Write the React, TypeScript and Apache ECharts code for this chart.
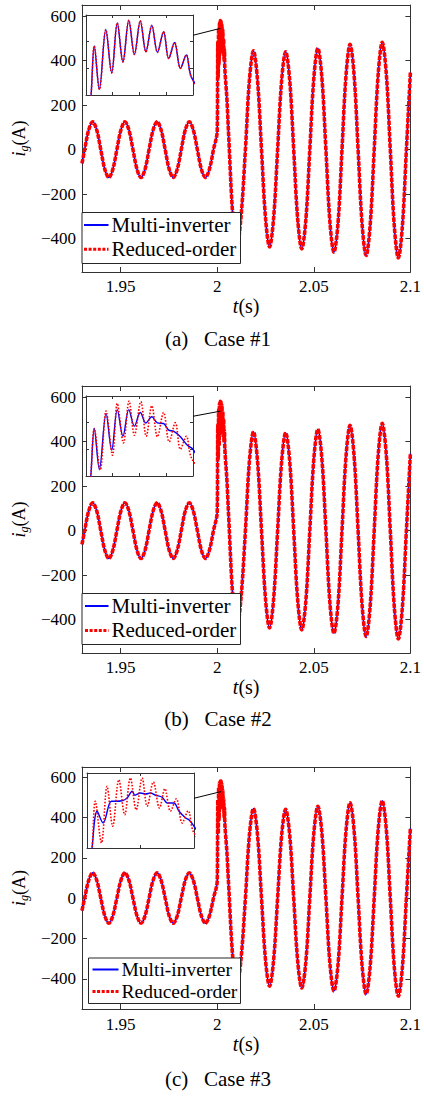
import React, { useEffect, useRef } from 'react';
import * as echarts from 'echarts';

type P = [number, number];

// ---------- tick labels ----------
const xTickValues = [1.95, 2, 2.05, 2.1];
const yTickValues = [-400, -200, 0, 200, 400, 600];
const insetXTicks = [[2.001, 2.002, 2.003], [2.001, 2.002, 2.003], [2.002]];
const insetYTicks = [[400, 500], [400, 500], [] as number[]];

// ---------- series values (t [s], i_g [A]) ----------
const preFault: P[] = [
  [1.93, -62], [1.93139, 0], [1.93347, 88], [1.93556, 125], [1.93764, 88], [1.93972, 0], [1.94181, -88], [1.94389, -125], [1.94597, -88], [1.94806, 0],
  [1.95014, 88], [1.95222, 125], [1.95431, 88], [1.95639, 0], [1.95847, -88], [1.96056, -125], [1.96264, -88], [1.96472, 0],
  [1.96681, 88], [1.96889, 125], [1.97097, 88], [1.97306, 0], [1.97514, -88], [1.97722, -125], [1.97931, -88], [1.98139, 0],
  [1.98347, 88], [1.98556, 125], [1.98764, 88], [1.98972, 0], [1.99181, -88], [1.99389, -125], [1.99597, -88], [1.99806, 0],
  [2.0, 84],
];

const postFault: P[] = [
  [2.005, 230], [2.006, 50], [2.0081, -300], [2.0102, -435], [2.0123, -305], [2.0146, 0], [2.01668, 314], [2.01877, 444],
  [2.02085, 314], [2.02293, 0], [2.02502, -309], [2.0271, -437], [2.02918, -309], [2.03127, 0], [2.03335, 311], [2.03543, 440],
  [2.03752, 313], [2.0396, 0], [2.04168, -315], [2.04377, -446], [2.04585, -319], [2.04793, 0], [2.05002, 322], [2.0521, 455],
  [2.05418, 324], [2.05627, 0], [2.05835, -326], [2.06043, -461], [2.06252, -332], [2.0646, 0], [2.06668, 334], [2.06877, 473],
  [2.07085, 336], [2.07293, 0], [2.07502, -337], [2.0771, -476], [2.07918, -339], [2.08127, 0], [2.08335, 341], [2.08543, 482],
  [2.08752, 342], [2.0896, 0], [2.09168, -344], [2.09377, -487], [2.09585, -345], [2.09793, 0], [2.1, 346],
];

const spikeCase1: P[] = [
  [2.00019, 300], [2.00031, 484], [2.0005, 321], [2.00074, 545], [2.00096, 383], [2.00117, 570], [2.00138, 424], [2.0016, 580],
  [2.00181, 452], [2.00203, 578], [2.00224, 462], [2.00246, 561], [2.00267, 460], [2.0029, 537], [2.00309, 437], [2.00331, 497],
  [2.00353, 400], [2.00375, 450], [2.00396, 362],
];

const spikeCase2Multi: P[] = [
  [2.00018, 300], [2.00031, 478], [2.0005, 325], [2.00075, 534], [2.00096, 397], [2.00117, 549], [2.00138, 449], [2.0016, 549],
  [2.00181, 487], [2.00203, 538], [2.00224, 499], [2.00246, 522], [2.00267, 499], [2.0029, 497], [2.00309, 472], [2.00327, 468],
  [2.00353, 447], [2.00378, 416], [2.004, 400],
];

const spikeCase2Reduced: P[] = [
  [2.00018, 300], [2.00031, 478], [2.00053, 322], [2.00075, 544], [2.00099, 378], [2.00117, 572], [2.0014, 424], [2.00161, 581],
  [2.00181, 453], [2.00205, 579], [2.00225, 449], [2.00246, 563], [2.00267, 447], [2.0029, 538], [2.00311, 428], [2.00334, 500],
  [2.00353, 400], [2.00375, 449], [2.00396, 364],
];

const spikeCase3Multi: P[] = [
  [2.00019, 300], [2.00038, 447], [2.0006, 400], [2.00091, 487], [2.00106, 487], [2.00131, 489], [2.0015, 500], [2.00169, 527],
  [2.00179, 511], [2.002, 520], [2.00219, 516], [2.00237, 520], [2.00256, 511], [2.00281, 503], [2.003, 480], [2.00325, 480],
  [2.00344, 447], [2.00369, 420], [2.00381, 413], [2.004, 387],
];

const spikeCase3Reduced: P[] = [
  [2.00019, 300], [2.00031, 487], [2.00054, 320], [2.00075, 547], [2.00096, 387], [2.00119, 573], [2.00141, 433], [2.00162, 580],
  [2.00184, 453], [2.00206, 580], [2.00225, 467], [2.00248, 564], [2.00271, 460], [2.00291, 537], [2.00312, 447], [2.00334, 497],
  [2.00356, 400], [2.00378, 449], [2.004, 360],
];

const spikesMulti = [spikeCase1, spikeCase2Multi, spikeCase3Multi];
const spikesReduced = [spikeCase1, spikeCase2Reduced, spikeCase3Reduced];

// zoom connector: point on the inset edge (inset coords) and on the spike (main coords)
const connectorInset: P[] = [[2.004, 524], [2.004, 524], [2.004, 499]];
const connectorMain: P[] = [[2.00165, 545], [2.00165, 537], [2.002, 528]];

const seriesNames = ['Multi-inverter', 'Reduced-order'];
const captions = ['(a)\u2002 Case #1', '(b)\u2002 Case #2', '(c)\u2002 Case #3'];

// ---------- layout (pixels) ----------
const panels = [
  {
    main: { left: 75, top: 5, width: 340, height: 267 },
    inset: { left: 86, top: 15, width: 107, height: 80 },
    legend: { x: 82, y: 212.5, w: 158.5, h: 51, l1: 225, l2: 249.3, s0: 84, s1: 108.5, tx: 111.5, fs: 21 },
    caption: { x: 218, y: 339 },
    xLabelMargin: 6, xNameGap: 21,
  },
  {
    main: { left: 75, top: 386, width: 340, height: 267 },
    inset: { left: 86, top: 396, width: 107, height: 80 },
    legend: { x: 82, y: 593.5, w: 158.5, h: 51, l1: 606, l2: 630.5, s0: 85, s1: 108.5, tx: 111.5, fs: 21 },
    caption: { x: 218, y: 719 },
    xLabelMargin: 6, xNameGap: 21,
  },
  {
    main: { left: 81, top: 767, width: 330, height: 242 },
    inset: { left: 87, top: 773, width: 107, height: 75 },
    legend: { x: 88.5, y: 958, w: 152, h: 45.5, l1: 969.5, l2: 991.5, s0: 92.5, s1: 118.5, tx: 121.5, fs: 19.5 },
    caption: { x: 218, y: 1079 },
    xLabelMargin: 7, xNameGap: 24,
  },
];

const FONT = 'Liberation Serif, Times New Roman, serif';
const AX = '#333333';
const BLUE = '#0000ff';
const RED = '#ff0000';

export default function App() {
  const ref = useRef<HTMLDivElement>(null);

  useEffect(() => {
    document.body.style.margin = '0';
    const chart = echarts.init(ref.current!, undefined, { renderer: 'svg' });
    const fmtY = (v: number) => (v < 0 ? '\u2212' + Math.abs(v) : String(v));

    const grid: any[] = [];
    const xAxis: any[] = [];
    const yAxis: any[] = [];
    const series: any[] = [];
    const idx: { xb: number; yb: number }[] = [];

    panels.forEach((p, i) => {
      const gMain = grid.length;
      grid.push({ ...p.main, show: true, backgroundColor: '#fff', borderWidth: 0 });
      const gIn = grid.length;
      grid.push({ ...p.inset, show: true, backgroundColor: '#fff', borderWidth: 0 });

      const xb = xAxis.length;
      const yb = yAxis.length;
      idx.push({ xb, yb });

      const mainTick = { show: true, inside: true, length: 5, customValues: xTickValues, lineStyle: { color: AX, width: 1 } };
      const mainLine = { show: true, onZero: false, lineStyle: { color: AX, width: 1 } };

      xAxis.push({
        type: 'value', gridIndex: gMain, position: 'bottom', min: 1.93, max: 2.1,
        axisLine: mainLine, axisTick: mainTick,
        axisLabel: { show: true, customValues: xTickValues, margin: p.xLabelMargin, fontFamily: FONT, fontSize: 17, color: '#000', formatter: (v: number) => String(v) },
        splitLine: { show: false },
        name: '{t|t}(s)', nameLocation: 'middle', nameGap: p.xNameGap,
        nameTextStyle: { fontFamily: FONT, fontSize: 20, color: '#000', rich: { t: { fontFamily: FONT, fontSize: 20, fontStyle: 'italic', color: '#000' } } },
      });
      xAxis.push({
        type: 'value', gridIndex: gMain, position: 'top', min: 1.93, max: 2.1,
        axisLine: mainLine, axisTick: mainTick, axisLabel: { show: false }, splitLine: { show: false },
      });
      const inTickX = insetXTicks[i];
      xAxis.push({
        type: 'value', gridIndex: gIn, position: 'bottom', min: 2.0, max: 2.004,
        axisLine: { show: true, onZero: false, lineStyle: { color: AX, width: 1 } },
        axisTick: { show: true, inside: true, length: 3, customValues: inTickX, lineStyle: { color: AX } },
        axisLabel: { show: false }, splitLine: { show: false },
      });
      xAxis.push({
        type: 'value', gridIndex: gIn, position: 'top', min: 2.0, max: 2.004,
        axisLine: { show: true, onZero: false, lineStyle: { color: AX, width: 1 } },
        axisTick: { show: true, inside: true, length: 3, customValues: inTickX, lineStyle: { color: AX } },
        axisLabel: { show: false }, splitLine: { show: false },
      });

      const yTick = { show: true, inside: true, length: 5, customValues: yTickValues, lineStyle: { color: AX, width: 1 } };
      yAxis.push({
        type: 'value', gridIndex: gMain, position: 'left', min: -550, max: 650,
        axisLine: mainLine, axisTick: yTick,
        axisLabel: { show: true, customValues: yTickValues, margin: 6, fontFamily: FONT, fontSize: 17, color: '#000', formatter: fmtY },
        splitLine: { show: false },
        name: '{i|i}{g|g}(A)', nameLocation: 'middle', nameRotate: 90, nameGap: 44,
        nameTextStyle: {
          fontFamily: FONT, fontSize: 18, color: '#000', lineHeight: 22,
          rich: {
            i: { fontFamily: FONT, fontSize: 18, fontStyle: 'italic', color: '#000', lineHeight: 22 },
            g: { fontFamily: FONT, fontSize: 12, fontStyle: 'italic', color: '#000', lineHeight: 14, verticalAlign: 'bottom' },
          },
        },
      });
      yAxis.push({
        type: 'value', gridIndex: gMain, position: 'right', min: -550, max: 650,
        axisLine: mainLine, axisTick: yTick, axisLabel: { show: false }, splitLine: { show: false },
      });
      const inTickY = insetYTicks[i];
      const hasY = inTickY.length > 0;
      yAxis.push({
        type: 'value', gridIndex: gIn, position: 'left', min: 300, max: 600,
        axisLine: { show: true, onZero: false, lineStyle: { color: AX, width: 1 } },
        axisTick: hasY ? { show: true, inside: true, length: 3, customValues: inTickY, lineStyle: { color: AX } } : { show: false },
        axisLabel: { show: false }, splitLine: { show: false },
      });
      yAxis.push({
        type: 'value', gridIndex: gIn, position: 'right', min: 300, max: 600,
        axisLine: { show: true, onZero: false, lineStyle: { color: AX, width: 1 } },
        axisTick: hasY ? { show: true, inside: true, length: 3, customValues: inTickY, lineStyle: { color: AX } } : { show: false },
        axisLabel: { show: false }, splitLine: { show: false },
      });

      const multi = [...preFault, ...spikesMulti[i], ...postFault];
      const reduced = [...preFault, ...spikesReduced[i], ...postFault];

      const base = { type: 'line', showSymbol: false, symbol: 'none', silent: true, clip: true };
      series.push({ ...base, name: seriesNames[0], xAxisIndex: xb, yAxisIndex: yb, data: multi, smooth: 0.35, z: 2,
        lineStyle: { color: BLUE, width: 1.6 } });
      series.push({ ...base, name: seriesNames[1], xAxisIndex: xb, yAxisIndex: yb, data: reduced, smooth: 0.35, z: 3,
        lineStyle: { color: RED, width: 3.6, type: [4.5, 1.2], cap: 'butt' } });
      series.push({ ...base, name: seriesNames[0], xAxisIndex: xb + 2, yAxisIndex: yb + 2, data: multi, smooth: 0.35, z: 4,
        lineStyle: { color: BLUE, width: 1.4 } });
      series.push({ ...base, name: seriesNames[1], xAxisIndex: xb + 2, yAxisIndex: yb + 2, data: reduced, smooth: 0.35, z: 5,
        lineStyle: { color: RED, width: 1.6, type: [1.6, 1.6], cap: 'butt' } });
    });

    chart.setOption({ animation: false, grid, xAxis, yAxis, series });

    const elements: any[] = [];
    panels.forEach((p, i) => {
      const L = p.legend;
      const { xb, yb } = idx[i];
      const a = chart.convertToPixel({ xAxisIndex: xb + 2, yAxisIndex: yb + 2 } as any, connectorInset[i]) as number[];
      const b = chart.convertToPixel({ xAxisIndex: xb, yAxisIndex: yb } as any, connectorMain[i]) as number[];
      elements.push({
        type: 'line', z: 100, silent: true,
        shape: { x1: a[0], y1: a[1], x2: b[0], y2: b[1] },
        style: { stroke: '#000', lineWidth: 1 },
      });
      elements.push({
        type: 'rect', z: 100, silent: true,
        shape: { x: L.x, y: L.y, width: L.w, height: L.h },
        style: { fill: '#fff', stroke: '#262626', lineWidth: 1 },
      });
      elements.push({
        type: 'line', z: 101, silent: true,
        shape: { x1: L.s0, y1: L.l1, x2: L.s1, y2: L.l1 },
        style: { stroke: BLUE, lineWidth: 2 },
      });
      elements.push({
        type: 'line', z: 101, silent: true,
        shape: { x1: L.s0, y1: L.l2, x2: L.s1, y2: L.l2 },
        style: { stroke: RED, lineWidth: 3, lineDash: [3, 1.6] },
      });
      elements.push({
        type: 'text', z: 101, silent: true, x: L.tx, y: L.l1 - 0.5,
        style: { text: seriesNames[0], fill: '#000', fontFamily: FONT, fontSize: L.fs, align: 'left', verticalAlign: 'middle' },
      });
      elements.push({
        type: 'text', z: 101, silent: true, x: L.tx, y: L.l2 - 0.5,
        style: { text: seriesNames[1], fill: '#000', fontFamily: FONT, fontSize: L.fs, align: 'left', verticalAlign: 'middle' },
      });
      elements.push({
        type: 'text', z: 101, silent: true, x: p.caption.x, y: p.caption.y,
        style: { text: captions[i], fill: '#000', fontFamily: FONT, fontSize: 21, align: 'center', verticalAlign: 'middle' },
      });
    });
    chart.setOption({ graphic: { elements } });

    return () => {
      chart.dispose();
    };
  }, []);

  return <div ref={ref} style={{ width: 424, height: 1096 }} />;
}
